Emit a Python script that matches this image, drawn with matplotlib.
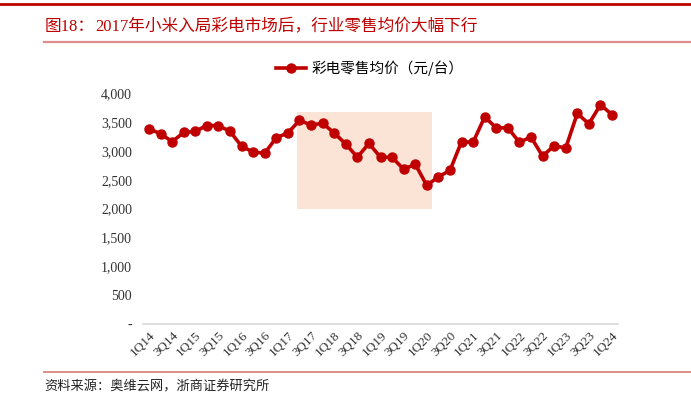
import matplotlib
matplotlib.use("Agg")
import matplotlib.pyplot as plt
from matplotlib.patches import Rectangle
from matplotlib.lines import Line2D

plt.rcParams['font.family'] = ['Liberation Serif', 'Noto Sans CJK SC', 'DejaVu Sans']

quarters = []
for yr in range(14, 24):
    for q in range(1, 5):
        quarters.append(f"{q}Q{yr}")
quarters.append("1Q24")

prices = [3380, 3300, 3160, 3320, 3340, 3440, 3440, 3340, 3080, 2980,
          2960, 3230, 3310, 3530, 3450, 3480, 3310, 3120, 2890, 3130,
          2890, 2890, 2680, 2770, 2400, 2550, 2660, 3160, 3150, 3590,
          3400, 3400, 3150, 3240, 2910, 3090, 3050, 3650, 3470, 3800,
          3630]

series_name = "彩电零售均价（元/台）"
title_prefix = "图18："
title_text = "2017年小米入局彩电市场后，行业零售均价大幅下行"
source_text = "资料来源：奥维云网，浙商证券研究所"

highlight_start = "2Q17"
highlight_end = "1Q20"
highlight_low, highlight_high = 2000, 3670

yticks = [0, 500, 1000, 1500, 2000, 2500, 3000, 3500, 4000]

W, H = 691, 399
fig = plt.figure(figsize=(W / 100, H / 100), dpi=100)
ax = fig.add_axes([143.2 / W, 1 - 323.7 / H, (617.8 - 143.2) / W, (323.7 - 93.3) / H])

x = list(range(len(quarters)))
i0 = quarters.index(highlight_start)
i1 = quarters.index(highlight_end)
ax.add_patch(Rectangle((i0 - 0.2, highlight_low), (i1 - i0) + 0.67, highlight_high - highlight_low,
                       facecolor='#FBE3D6', edgecolor='none', zorder=1))

red = '#C00000'
ax.plot(x, prices, color=red, lw=2.6, marker='o', markersize=6.5, zorder=3)

ax.set_xlim(-0.5, len(quarters) - 0.5)
ax.set_ylim(0, 4000)
ax.set_yticks(yticks)
ax.set_yticklabels(['-' if v == 0 else f"{v:,}" for v in yticks], fontsize=10, color='#333333')
ax.set_xticks(x[::2])
ax.set_xticklabels(quarters[::2], rotation=45, ha='right', va='top', rotation_mode='anchor',
                   fontsize=9.5, color='#333333')
ax.tick_params(axis='both', length=0, pad=8)
ax.tick_params(axis='x', pad=4)
for s in ['top', 'right', 'left']:
    ax.spines[s].set_visible(False)
ax.spines['bottom'].set_color('#D9D9D9')
ax.spines['bottom'].set_linewidth(1.2)

# legend
handle = Line2D([], [], color=red, lw=2.6, marker='o', markersize=6.5)
leg = fig.legend([handle], [series_name], loc='center', bbox_to_anchor=(370 / W, 1 - 68 / H),
                 frameon=False, handlelength=2.0, handletextpad=0.4,
                 prop={'family': ['Noto Sans CJK SC', 'DejaVu Sans'], 'size': 10.5})

# header / footer decorations
fig.add_artist(Line2D([0, 1], [1 - 3.5 / H, 1 - 3.5 / H], color='#C00000', lw=2.0))
fig.add_artist(Line2D([44 / W, 1], [1 - 42 / H, 1 - 42 / H], color='#E08C8C', lw=1.6))
fig.text(45 / W, 1 - 27 / H, title_prefix, fontsize=12, color='#C00000', va='center', ha='left',
         family=['Liberation Serif', 'Noto Sans CJK SC'])
fig.text(95 / W, 1 - 27 / H, title_text, fontsize=12, color='#C00000', va='center', ha='left',
         family=['Liberation Serif', 'Noto Sans CJK SC'])
fig.add_artist(Line2D([44 / W, 1], [1 - 372 / H, 1 - 372 / H], color='#E08C8C', lw=1.4))
fig.text(44 / W, 1 - 387 / H, source_text, fontsize=9.5, color='#222222', va='center', ha='left',
         family=['Noto Sans CJK SC', 'DejaVu Sans'])

fig.savefig('out.png', dpi=100)
